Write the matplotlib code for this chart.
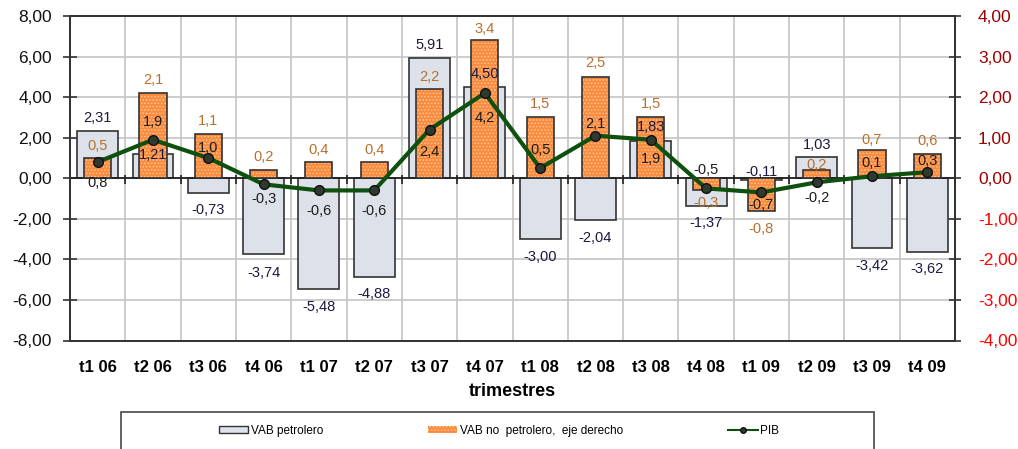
import numpy as np
import matplotlib
matplotlib.use("Agg")
from matplotlib import pyplot as plt
from matplotlib.patches import Patch, Rectangle
from matplotlib.lines import Line2D

plt.rcParams['font.family'] = ['Liberation Sans', 'DejaVu Sans']
plt.rcParams['hatch.linewidth'] = 0.8

# Data
quarters = ['t1 06', 't2 06', 't3 06', 't4 06', 't1 07', 't2 07', 't3 07', 't4 07',
            't1 08', 't2 08', 't3 08', 't4 08', 't1 09', 't2 09', 't3 09', 't4 09']
vab_petrolero = [2.31, 1.21, -0.73, -3.74, -5.48, -4.88, 5.91, 4.50,
                 -3.00, -2.04, 1.83, -1.37, -0.11, 1.03, -3.42, -3.62]
vab_no_petrolero = [0.5, 2.1, 1.1, 0.2, 0.4, 0.4, 2.2, 3.4,
                    1.5, 2.5, 1.5, -0.3, -0.8, 0.2, 0.7, 0.6]
pib = [0.8, 1.9, 1.0, -0.3, -0.6, -0.6, 2.4, 4.2,
       0.5, 2.1, 1.9, -0.5, -0.7, -0.2, 0.1, 0.3]

# label offsets (pixels, + = up) relative to bar end / marker
off_petro = [13, -1, -17, -19, -18, -17, 13, 13, -18, -18, 14, -17, 8, 12, -18, -17]
off_nopetro = [12, 13, 13, 13, 12, 12, 12, 11, 13, 14, 13, -13, -18, 5, 10, 13]
off_pib = [-21, 18, 10, -15, -21, -21, -22, -25, 18, 12, -19, 18, -13, -16, 13, 11]

GREY = '#DDE1E9'
ORANGE = '#FA8A3C'
DOTS = '#FFC393'
GREEN = '#0E500E'
EDGE = '#333333'


def fmt(v, nd):
    return f"{v:.{nd}f}".replace('.', ',')


x = np.arange(len(quarters))

fig = plt.figure(figsize=(10.18, 4.49), dpi=100)
ax = fig.add_axes([70 / 1018, 1 - 340.5 / 449, 885 / 1018, 324.5 / 449])
ax2 = ax.twinx()

# grid
ax.set_xlim(-0.5, len(quarters) - 0.5)
ax.set_ylim(-8, 8)
ax2.set_ylim(-4, 4)
ax.set_xticks(x)
ax.set_xticks(np.arange(len(quarters) + 1) - 0.5, minor=True)
ax.set_axisbelow(True)
ax.grid(which='minor', axis='x', color='#C4C4C4', lw=1.2)
ax.grid(which='major', axis='y', color='#C4C4C4', lw=1.2)

# grey bars (left axis)
ax.bar(x, vab_petrolero, width=0.74, color=GREY, edgecolor=EDGE, lw=1.2, zorder=2)
ax.axhline(0, color='#222222', lw=1.3, zorder=3)
ax.vlines(np.arange(len(quarters) + 1) - 0.5, -0.3, 0.15, color='#222222', lw=1.2, zorder=3)

# orange bars (right axis)
ax2.bar(x, vab_no_petrolero, width=0.49, color=ORANGE, hatch='.....',
        edgecolor=DOTS, lw=0, zorder=2)
ax2.bar(x, vab_no_petrolero, width=0.49, fill=False, edgecolor=EDGE, lw=1.2, zorder=3)

# PIB line, on left-axis scale but drawn above the orange bars
ax2.plot(x, pib, color=GREEN, lw=3, marker='o', ms=7, mfc='#2E3A2E', mec='#111111',
         transform=ax.transData, zorder=5)

# data labels
for i in range(len(quarters)):
    ax2.annotate(fmt(vab_petrolero[i], 2), (x[i], vab_petrolero[i]), xycoords=ax.transData,
                 xytext=(0, off_petro[i]), textcoords='offset pixels',
                 ha='center', va='center', fontsize=10.5, color='#1A1A40', zorder=6)
    ax2.annotate(fmt(vab_no_petrolero[i], 1), (x[i], vab_no_petrolero[i]),
                 xytext=(0, off_nopetro[i]), textcoords='offset pixels',
                 ha='center', va='center', fontsize=10.5, color='#B8702E', zorder=6)
    ax2.annotate(fmt(pib[i], 1), (x[i], pib[i]), xycoords=ax.transData,
                 xytext=(0, off_pib[i]), textcoords='offset pixels',
                 ha='center', va='center', fontsize=10.5, color='#1C1C1C', zorder=6)

# axes styling
left_ticks = np.arange(-8, 9, 2)
ax.set_yticks(left_ticks)
ax.set_yticklabels([fmt(v, 2) for v in left_ticks], fontsize=12.5, color='#111111')
ax.tick_params(axis='y', direction='inout', length=10, width=1.2, pad=8, color=EDGE)
ax.tick_params(axis='x', which='both', length=0, pad=14)
ax.set_xticklabels(quarters, fontsize=12, fontweight='bold')
ax.set_xlabel('trimestres', fontsize=13, fontweight='bold', labelpad=6)

right_ticks = np.arange(-4, 5, 1)
ax2.set_yticks(right_ticks)
ax2.set_yticklabels([fmt(v, 2) for v in right_ticks], fontsize=12.5)
for lab, v in zip(ax2.get_yticklabels(), right_ticks):
    lab.set_color('#FF0000' if v < 0 else '#990000')
ax2.tick_params(axis='y', direction='inout', length=9, width=1.2, pad=12, color=EDGE)

for a in (ax, ax2):
    for s in a.spines.values():
        s.set_color(EDGE)
        s.set_linewidth(1.3)

# legend, with its frame running off the bottom of the figure
fig.add_artist(Rectangle((120.5 / 1018, -0.2), 753.5 / 1018, 0.2 + 37 / 449,
                         transform=fig.transFigure, fill=False, edgecolor='#555555', lw=1.3))
handles = [
    Patch(facecolor=GREY, edgecolor=EDGE, lw=1),
    Patch(facecolor=ORANGE, edgecolor=DOTS, hatch='.....', lw=0),
    Line2D([], [], color=GREEN, lw=1.5, marker='o', ms=4, mfc='#2E3A2E', mec='#111111'),
]
labels = ['VAB petrolero', 'VAB no  petrolero,  eje derecho', 'PIB']
fig.legend(handles, labels, loc='center', bbox_to_anchor=(0.49, 0.04), ncol=3,
           frameon=False, fontsize=8.5, handlelength=2.5, handleheight=0.5,
           handletextpad=0.2, columnspacing=8.9)

fig.savefig('out.png', dpi=100)
